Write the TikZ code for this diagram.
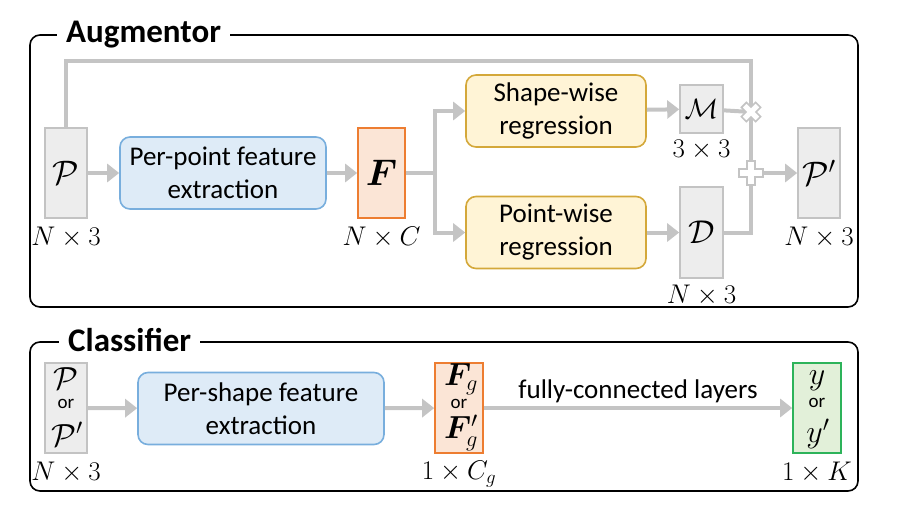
\RequirePackage{fix-cm}
\documentclass[tikz,border=0pt]{standalone}
\usepackage{fontspec}
\setmainfont{Carlito}
\usepackage{bm}
\usetikzlibrary{arrows.meta}

\definecolor{gfill}{HTML}{EDEDED}
\definecolor{gline}{HTML}{C3C3C3}
\definecolor{bfill}{HTML}{DEEBF7}
\definecolor{bline}{HTML}{78AEDD}
\definecolor{ofill}{HTML}{FBE5D6}
\definecolor{oline}{HTML}{ED7D31}
\definecolor{yfill}{HTML}{FFF4D6}
\definecolor{yline}{HTML}{D4A83A}
\definecolor{grfill}{HTML}{E2F0D9}
\definecolor{grline}{HTML}{2DB35A}
\definecolor{conn}{HTML}{C4C4C4}

\begin{document}
\begin{tikzpicture}[x=1pt,y=-1pt,
  every node/.style={font=\fontsize{27}{33}\selectfont},
  frame/.style={draw=black,line width=1.6pt,rounded corners=10pt},
  title/.style={fill=white,inner xsep=9pt,anchor=west,font=\fontsize{33}{36}\selectfont\bfseries},
  tensor/.style={draw=gline,fill=gfill,line width=1.6pt,inner sep=0pt,minimum width=42pt,minimum height=90pt,font=\fontsize{34}{34}\selectfont},
  feat/.style={draw=oline,fill=ofill,line width=1.6pt,inner sep=0pt,minimum width=47pt,minimum height=90pt,font=\fontsize{37}{37}\selectfont},
  outp/.style={draw=grline,fill=grfill,line width=1.6pt,inner sep=0pt,minimum width=48pt,minimum height=90pt},
  extr/.style={draw=bline,fill=bfill,line width=1.6pt,rounded corners=10pt,align=center,minimum height=72pt},
  regr/.style={draw=yline,fill=yfill,line width=1.6pt,rounded corners=10pt,align=center,minimum width=180pt,minimum height=72pt},
  line/.style={draw=conn,line width=4pt},
  arr/.style={line,-{Triangle[length=12pt,width=18pt]}},
  sym/.style={draw=conn,fill=white,line width=1.6pt},
  dim/.style={inner sep=0pt,font=\fontsize{27}{27}\selectfont},
  stack/.style={inner sep=0pt,font=\fontsize{32}{32}\selectfont},
  orword/.style={inner sep=0pt,font=\fontsize{19}{19}\selectfont}]
\useasboundingbox (0,0) rectangle (902,520);

% Augmentor
\draw[frame] (30,35) rectangle (858,307);
\node[title] (augt) at (57,35) {Augmentor};

\node[tensor] (P) at (66,173) {$\mathcal{P}$};
\node[dim] (Pdim) at (66,237) {$N\times 3$};
\node[extr,minimum width=206pt] (ext1) at (223,173) {Per-point feature\\extraction};
\node[feat] (F) at (381.5,173) {$\bm{F}$};
\node[dim] (Fdim) at (381.5,237) {$N\times C$};
\node[regr] (shape) at (556,111) {Shape-wise\\regression};
\node[regr] (point) at (556,232.5) {Point-wise\\regression};
\node[tensor,minimum width=43pt,minimum height=48pt,font=\fontsize{28}{28}\selectfont] (M) at (701.5,109) {$\mathcal{M}$};
\node[dim] (Mdim) at (701.5,150) {$3\times 3$};
\node[tensor,minimum width=43pt,minimum height=91pt,font=\fontsize{33}{33}\selectfont] (D) at (701.5,232.5) {$\mathcal{D}$};
\node[dim] (Ddim) at (701.5,295) {$N\times 3$};
\node[tensor] (P2) at (819,173) {$\mathcal{P}'$};
\node[dim] (P2dim) at (819,237) {$N\times 3$};

\coordinate (split) at (435,173);
\coordinate (top) at (751,61);
\coordinate (mul) at (751,112);
\coordinate (add) at (751,173);

\draw[arr] (P) -- (ext1);
\draw[arr] (ext1) -- (F);
\draw[line] (F) -- (split);
\draw[arr] (split) |- (shape.west);
\draw[arr] (split) |- (point.west);
\draw[arr] (shape) -- (M);
\draw[arr] (point) -- (D);
\draw[line] (P.north) |- (top) -- (add);
\draw[line] (M) -- (mul);
\draw[line] (D) -| (add);
\draw[arr] (add) -- (P2);

\filldraw[sym,shift={(mul)},rotate=45] (-3.5,-10) -- (3.5,-10) -- (3.5,-3.5) -- (10,-3.5) -- (10,3.5) -- (3.5,3.5)
  -- (3.5,10) -- (-3.5,10) -- (-3.5,3.5) -- (-10,3.5) -- (-10,-3.5) -- (-3.5,-3.5) -- cycle;
\filldraw[sym,shift={(add)}] (-4,-12) -- (4,-12) -- (4,-4) -- (12,-4) -- (12,4) -- (4,4)
  -- (4,12) -- (-4,12) -- (-4,4) -- (-12,4) -- (-12,-4) -- (-4,-4) -- cycle;

% Classifier
\draw[frame] (30,342) rectangle (858,491);
\node[title] (clst) at (59,340) {Classifier};

\node[tensor] (Pc) at (66,408) {};
\node[stack] (Pca) at (66,379) {$\mathcal{P}$};
\node[orword] (Pcb) at (66,404) {or};
\node[stack] (Pcc) at (67,434) {$\mathcal{P}'$};
\node[dim] (Pcdim) at (66,472) {$N\times 3$};
\node[extr,minimum width=246pt] (ext2) at (261,408.5) {Per-shape feature\\extraction};
\node[feat,minimum width=48pt] (Fg) at (459,408) {};
\node[stack] (Fga) at (461,379) {$\bm{F}_g$};
\node[orword] (Fgb) at (459,404) {or};
\node[stack] (Fgc) at (461,433) {$\bm{F}'_g$};
\node[dim] (Fgdim) at (459,474) {$1\times C_g$};
\node[outp] (Y) at (817,408) {};
\node[stack] (Ya) at (817,381) {$y$};
\node[orword] (Yb) at (817,403) {or};
\node[stack] (Yc) at (818,434) {$y'$};
\node[dim] (Ydim) at (817,472) {$1\times K$};

\draw[arr] (Pc) -- (ext2);
\draw[arr] (ext2) -- (Fg);
\draw[arr] (Fg) -- node[above=1pt,inner sep=2pt] (fc) {fully-connected layers} (Y);
\end{tikzpicture}
\end{document}
